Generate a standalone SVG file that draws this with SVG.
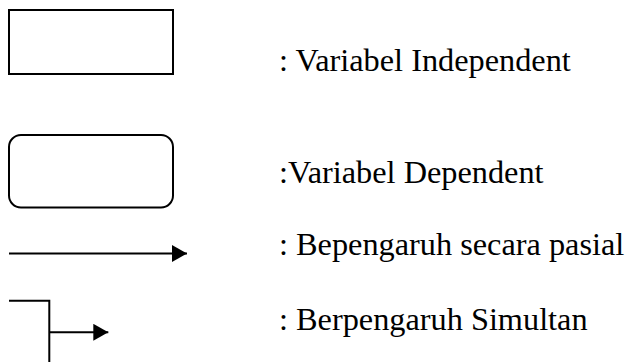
<svg xmlns="http://www.w3.org/2000/svg" width="626" height="362" viewBox="0 0 626 362">
<style>
.shape{fill:none;stroke:#000;stroke-width:2}
.line{fill:none;stroke:#000;stroke-width:2}
.lbl{font-family:"Liberation Serif","Times New Roman",serif;font-size:32.3px;fill:#000}
</style>
<defs>
<marker id="ah" markerWidth="16" markerHeight="17" refX="15" refY="8.5" orient="auto" markerUnits="userSpaceOnUse">
<path d="M0,0 L15,8.5 L0,17 Z" fill="#000"/>
</marker>
</defs>
<rect width="626" height="362" fill="#fff"/>
<g id="independent">
<rect class="shape" x="9" y="10" width="164" height="64"/>
</g>
<g id="dependent">
<rect class="shape" x="9" y="135" width="164" height="72.5" rx="12" ry="12"/>
</g>
<g id="connectors">
<line class="line" x1="9" y1="253.5" x2="187" y2="253.5" marker-end="url(#ah)"/>
<polyline class="line" points="9,300.7 49.3,300.7 49.3,362"/>
<line class="line" x1="49.3" y1="332.3" x2="108.3" y2="332.3" marker-end="url(#ah)"/>
</g>
<g id="labels">
<text class="lbl" x="279" y="71">: Variabel Independent</text>
<text class="lbl" x="279" y="183">:Variabel Dependent</text>
<text class="lbl" x="279" y="255">: Bepengaruh secara pasial</text>
<text class="lbl" x="279" y="330">: Berpengaruh Simultan</text>
</g>
</svg>
